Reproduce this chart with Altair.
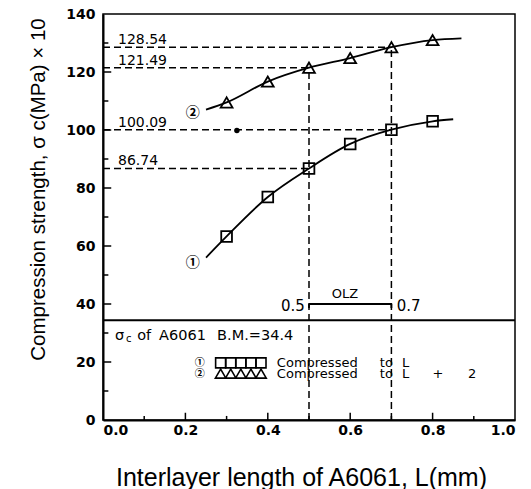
import altair as alt
import pandas as pd

# ---- data ----
x_pts = [0.3, 0.4, 0.5, 0.6, 0.7, 0.8]
sq_vals = [63.3, 76.9, 86.74, 95.2, 100.09, 103.0]      # (1) Compressed to L
tri_vals = [109.5, 116.7, 121.49, 124.8, 128.54, 131.0]  # (2) Compressed to L + 2

sq_curve_x = [0.25, 0.3, 0.4, 0.5, 0.6, 0.7, 0.8, 0.85]
sq_curve_y = [56.0, 63.3, 76.9, 86.74, 95.2, 100.09, 103.0, 103.7]
tri_curve_x = [0.25, 0.3, 0.4, 0.5, 0.6, 0.7, 0.8, 0.87]
tri_curve_y = [107.0, 109.5, 116.7, 121.49, 124.8, 128.54, 131.0, 131.6]

ref_vals = [128.54, 121.49, 100.09, 86.74]
ref_labels = ["128.54", "121.49", "100.09", "86.74"]
ref_xend = [0.7, 0.5, 0.7, 0.5]

vert_x = [0.5, 0.7]
vert_top = [121.49, 128.54]

base_metal = 34.4
olz_lo, olz_hi, olz_y = 0.5, 0.7, 40

x_ticks = [0.0, 0.2, 0.4, 0.6, 0.8, 1.0]
y_ticks = [0, 20, 40, 60, 80, 100, 120, 140]
x_minor = [0.1, 0.2, 0.3, 0.4, 0.5, 0.6, 0.7, 0.8, 0.9]
y_minor = [10, 20, 30, 40, 50, 60, 70, 80, 90, 100, 110, 120, 130]

W, H = 412, 406
FONT = "DejaVu Sans"
TFONT = "Liberation Sans"

xs = alt.Scale(domain=[0, 1], nice=False, zero=False)
ys = alt.Scale(domain=[0, 140], nice=False, zero=False)

# axes
base_axes = alt.Chart(pd.DataFrame({"x": [0.0], "y": [0.0]})).mark_point(opacity=0).encode(
    x=alt.X("x:Q", scale=xs, axis=alt.Axis(
        values=x_ticks, format=".1f", title="Interlayer length of A6061, L(mm)",
        titleFont=TFONT, titleFontSize=25, titleFontWeight="normal", titleColor="black",
        titleX=198, titleY=57, titleBaseline="middle", titleAlign="center",
        labelFont=FONT, labelFontSize=14, labelFontWeight="bold", labelColor="black",
        labelPadding=3, labelFlush=True, tickSize=0, ticks=False, grid=False,
        domainColor="black", domainWidth=2)),
    y=alt.Y("y:Q", scale=ys, axis=alt.Axis(
        values=y_ticks, title="Compression strength,  σ c(MPa)  × 10",
        titleFont=TFONT, titleFontSize=20.5, titleFontWeight="normal", titleColor="black",
        titleX=-65, titleY=175, titleAngle=-90, titleBaseline="middle", titleAlign="center",
        labelFont=FONT, labelFontSize=14, labelFontWeight="bold", labelColor="black",
        labelPadding=8, labelFlush=False, tickSize=0, ticks=False, grid=False, labelOverlap=False,
        domainColor="black", domainWidth=2)),
)

# inward ticks
xt = pd.DataFrame({"x": x_minor, "major": [round(v * 10) % 2 == 0 for v in x_minor]})
xt["y0"] = 0.0
xt["y1"] = [2.5 if m else 1.4 for m in xt["major"]]
x_tick_layer = alt.Chart(xt).mark_rule(color="black", strokeWidth=1.5).encode(
    x=alt.X("x:Q", scale=xs), y=alt.Y("y0:Q", scale=ys), y2="y1:Q")
yt = pd.DataFrame({"y": y_minor, "major": [v % 20 == 0 for v in y_minor]})
yt["x0"] = 0.0
yt["x1"] = [0.02 if m else 0.013 for m in yt["major"]]
y_tick_layer = alt.Chart(yt).mark_rule(color="black", strokeWidth=1.5).encode(
    y=alt.Y("y:Q", scale=ys), x=alt.X("x0:Q", scale=xs), x2="x1:Q")

# dashed reference lines
hd = pd.DataFrame({"y": ref_vals, "x0": [0.0] * 4, "x1": ref_xend, "label": ref_labels})
h_dash = alt.Chart(hd).mark_rule(color="black", strokeWidth=1.5, strokeDash=[7, 4]).encode(
    y=alt.Y("y:Q", scale=ys), x=alt.X("x0:Q", scale=xs), x2="x1:Q")
h_text = alt.Chart(hd).mark_text(font=FONT, fontSize=14, align="left", baseline="alphabetic",
                                 dy=-3, color="black").encode(
    y=alt.Y("y:Q", scale=ys), x=alt.value(15), text="label:N")
vd = pd.DataFrame({"x": vert_x, "y0": [0.0, 0.0], "y1": vert_top})
v_dash = alt.Chart(vd).mark_rule(color="black", strokeWidth=1.5, strokeDash=[7, 4]).encode(
    x=alt.X("x:Q", scale=xs), y=alt.Y("y0:Q", scale=ys), y2="y1:Q")

# base metal line
bm = pd.DataFrame({"y": [base_metal], "x0": [0.0], "x1": [1.0]})
bm_line = alt.Chart(bm).mark_rule(color="black", strokeWidth=2).encode(
    y=alt.Y("y:Q", scale=ys), x=alt.X("x0:Q", scale=xs), x2="x1:Q")

# curves
c1 = pd.DataFrame({"x": sq_curve_x, "y": sq_curve_y})
c2 = pd.DataFrame({"x": tri_curve_x, "y": tri_curve_y})
curve1 = alt.Chart(c1).mark_line(color="black", strokeWidth=1.8, interpolate="monotone").encode(
    x=alt.X("x:Q", scale=xs), y=alt.Y("y:Q", scale=ys))
curve2 = alt.Chart(c2).mark_line(color="black", strokeWidth=1.8, interpolate="monotone").encode(
    x=alt.X("x:Q", scale=xs), y=alt.Y("y:Q", scale=ys))

pts = pd.DataFrame({"x": x_pts, "sq": sq_vals, "tri": tri_vals})
sq_pts = alt.Chart(pts).mark_point(shape="square", size=115, filled=False, color="black",
                                   strokeWidth=1.8, opacity=1).encode(
    x=alt.X("x:Q", scale=xs), y=alt.Y("sq:Q", scale=ys))
tri_pts = alt.Chart(pts).mark_point(shape="triangle-up", size=140, filled=False, color="black",
                                    strokeWidth=1.8, opacity=1).encode(
    x=alt.X("x:Q", scale=xs), y=alt.Y("tri:Q", scale=ys))

# circled series numbers and a stray dot
circ = pd.DataFrame({"x": [0.218, 0.218], "y": [54.0, 106.0], "t": ["①", "②"]})
circ_text = alt.Chart(circ).mark_text(font="Noto Sans CJK JP", fontSize=14, color="black",
                                      fontWeight="bold", baseline="middle").encode(
    x=alt.X("x:Q", scale=xs), y=alt.Y("y:Q", scale=ys), text="t:N")
dot = pd.DataFrame({"x": [0.325], "y": [99.8]})
dot_pt = alt.Chart(dot).mark_point(shape="circle", size=30, filled=True, color="black",
                                   opacity=1).encode(
    x=alt.X("x:Q", scale=xs), y=alt.Y("y:Q", scale=ys))

# OLZ bracket
olz = pd.DataFrame({"x0": [olz_lo], "x1": [olz_hi], "y": [olz_y]})
olz_line = alt.Chart(olz).mark_rule(color="black", strokeWidth=1.8).encode(
    x=alt.X("x0:Q", scale=xs), x2="x1:Q", y=alt.Y("y:Q", scale=ys))
olz_ends = pd.DataFrame({"x": [olz_lo, olz_hi], "y0": [olz_y - 1.4] * 2, "y1": [olz_y] * 2})
olz_end = alt.Chart(olz_ends).mark_rule(color="black", strokeWidth=1.8).encode(
    x=alt.X("x:Q", scale=xs), y=alt.Y("y0:Q", scale=ys), y2="y1:Q")
olz_txt = pd.DataFrame({"x": [0.587, 0.49, 0.713], "y": [43.6, 39.2, 39.2],
                        "t": ["OLZ", "0.5", "0.7"]})
olz_t1 = alt.Chart(olz_txt.iloc[[0]]).mark_text(font=FONT, fontSize=13, color="black",
                                                align="center", baseline="middle").encode(
    x=alt.X("x:Q", scale=xs), y=alt.Y("y:Q", scale=ys), text="t:N")
olz_t2 = alt.Chart(olz_txt.iloc[[1]]).mark_text(font=FONT, fontSize=15, color="black",
                                                align="right", baseline="middle").encode(
    x=alt.X("x:Q", scale=xs), y=alt.Y("y:Q", scale=ys), text="t:N")
olz_t3 = alt.Chart(olz_txt.iloc[[2]]).mark_text(font=FONT, fontSize=15, color="black",
                                                align="left", baseline="middle").encode(
    x=alt.X("x:Q", scale=xs), y=alt.Y("y:Q", scale=ys), text="t:N")

# base metal annotation
bm_txt = pd.DataFrame({"x": [0.029, 0.083, 0.136, 0.277], "y": [29.0] * 4,
                       "t": ["σ", "of", "A6061", "B.M.=34.4"]})
bm_t = alt.Chart(bm_txt).mark_text(font=FONT, fontSize=14.5, color="black", align="left",
                                   baseline="middle").encode(
    x=alt.X("x:Q", scale=xs), y=alt.Y("y:Q", scale=ys), text="t:N")
bm_sub = alt.Chart(pd.DataFrame({"x": [0.056], "y": [27.8], "t": ["c"]})).mark_text(
    font=FONT, fontSize=10, color="black", align="left", baseline="middle").encode(
    x=alt.X("x:Q", scale=xs), y=alt.Y("y:Q", scale=ys), text="t:N")

# legend
leg_y = [19.7, 16.0]
leg_start, leg_step = 0.2855, 0.0245
leg_sym = pd.DataFrame({"x": [leg_start + i * leg_step for i in range(5)]})
leg_sym["y1"] = leg_y[0]
leg_sym["y2"] = leg_y[1]
leg_sq = alt.Chart(leg_sym).mark_point(shape="square", size=100, filled=False, color="black",
                                       strokeWidth=1.6, opacity=1).encode(
    x=alt.X("x:Q", scale=xs), y=alt.Y("y1:Q", scale=ys))
leg_tri = alt.Chart(leg_sym).mark_point(shape="triangle-up", size=110, filled=False, color="black",
                                        strokeWidth=1.6, opacity=1).encode(
    x=alt.X("x:Q", scale=xs), y=alt.Y("y2:Q", scale=ys))
leg_circ = alt.Chart(pd.DataFrame({"x": [0.235, 0.235], "y": leg_y, "t": ["①", "②"]})).mark_text(
    font="Noto Sans CJK JP", fontSize=10, fontWeight="bold", color="black", baseline="middle").encode(
    x=alt.X("x:Q", scale=xs), y=alt.Y("y:Q", scale=ys), text="t:N")
leg_words = pd.DataFrame({
    "x": [0.422, 0.672, 0.726, 0.422, 0.672, 0.726, 0.80, 0.886],
    "y": [leg_y[0]] * 3 + [leg_y[1]] * 5,
    "t": ["Compressed", "to", "L", "Compressed", "to", "L", "+", "2"],
})
leg_text = alt.Chart(leg_words).mark_text(font=FONT, fontSize=13, color="black", align="left",
                                          baseline="middle").encode(
    x=alt.X("x:Q", scale=xs), y=alt.Y("y:Q", scale=ys), text="t:N")

chart = alt.layer(
    base_axes, x_tick_layer, y_tick_layer, h_dash, v_dash, bm_line, curve1, curve2,
    sq_pts, tri_pts, circ_text, dot_pt, olz_line, olz_end, olz_t1, olz_t2, olz_t3,
    bm_t, bm_sub, leg_sq, leg_tri, leg_circ, leg_text, h_text,
).properties(
    width=W, height=H,
    autosize=alt.AutoSizeParams(type="none"),
    padding={"left": 95, "top": 6, "right": 8, "bottom": 80},
    background="white",
).configure_view(stroke="black", strokeWidth=1.5)

chart.save("out.html", embed_options={"renderer": "svg", "actions": False})
